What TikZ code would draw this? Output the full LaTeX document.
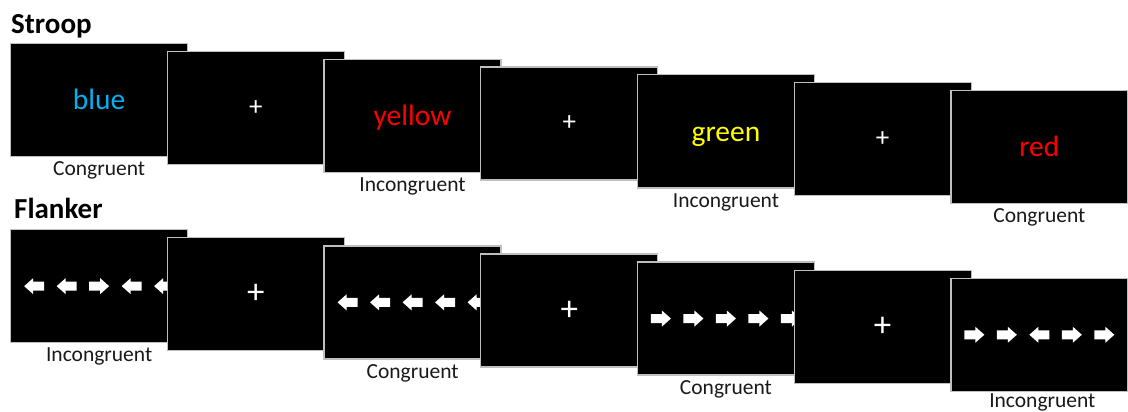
\documentclass[tikz,border=0pt]{standalone}
\usepackage{fontspec}
\setmainfont{Carlito}
\definecolor{wordblue}{HTML}{00B0F0}
\definecolor{wordred}{HTML}{FF0000}
\definecolor{wordyellow}{HTML}{FFFF00}
\definecolor{rim}{HTML}{BFBFBF}
\begin{document}
\begin{tikzpicture}[x=1pt,y=-1pt,
  screen/.style={rectangle, fill=black, draw=rim, line width=1.3pt,
    minimum width=177pt, minimum height=113pt, inner sep=0pt, anchor=north west},
  heading/.style={font=\fontsize{29}{30}\selectfont\bfseries, anchor=base west,
    inner sep=0pt, text=black},
  cond/.style={font=\fontsize{21.5}{23}\selectfont, anchor=base, inner sep=0pt,
    text=black!90},
  word/.style={font=\fontsize{29.5}{31}\selectfont, anchor=base, inner sep=0pt},
  fixcross/.style={font=\fontsize{27}{28}\selectfont, text=white, inner sep=0pt},
  bigcross/.style={fixcross, font=\fontsize{35}{36}\selectfont},
  rarr/.pic={\fill[white] (-10,-4.5) -- (1,-4.5) -- (1,-8) -- (10,0) -- (1,8)
    -- (1,4.5) -- (-10,4.5) -- cycle;}]
\useasboundingbox (0,0) rectangle (1128,412);

% ---- Stroop row ----
\node[heading] (stroop) at (11,33.5) {Stroop};

\node[screen] (s1) at (10,43) {};
\node[word, text=wordblue] (w1) at ([yshift=-67pt]s1.north) {blue};
\node[screen] (s2) at (166.7,50.8) {};
\node[fixcross] (p2) at (s2.center) {+};
\node[screen] (s3) at (323.4,58.6) {};
\node[word, text=wordred] (w3) at ([yshift=-67pt]s3.north) {yellow};
\node[screen] (s4) at (480.1,66.4) {};
\node[fixcross] (p4) at (s4.center) {+};
\node[screen] (s5) at (636.8,74.2) {};
\node[word, text=wordyellow] (w5) at ([yshift=-67pt]s5.north) {green};
\node[screen] (s6) at (793.5,82) {};
\node[fixcross] (p6) at (s6.center) {+};
\node[screen] (s7) at (950.2,89.8) {};
\node[word, text=wordred] (w7) at ([yshift=-67pt]s7.north) {red};

\node[cond] (c1) at ([yshift=-18.5pt]s1.south) {Congruent};
\node[cond] (c3) at ([yshift=-18.5pt]s3.south) {Incongruent};
\node[cond] (c5) at ([yshift=-18.5pt]s5.south) {Incongruent};
\node[cond] (c7) at ([yshift=-18.5pt]s7.south) {Congruent};

% ---- Flanker row ----
\node[heading] (flanker) at (14,218.3) {Flanker};

\node[screen] (f1) at (10,229) {};
\foreach \k/\dir in {-2/-1,-1/-1,0/1,1/-1,2/-1}
  \pic[xscale=\dir] at ([xshift=\k*32.5pt]f1.center) {rarr};
\node[screen] (f2) at (166.7,237.1) {};
\node[bigcross] (q2) at (f2.center) {+};
\node[screen] (f3) at (323.4,245.2) {};
\foreach \k in {-2,...,2}
  \pic[xscale=-1] at ([xshift=\k*32.5pt]f3.center) {rarr};
\node[screen] (f4) at (480.1,253.3) {};
\node[bigcross] (q4) at (f4.center) {+};
\node[screen] (f5) at (636.8,261.4) {};
\foreach \k in {-2,...,2}
  \pic at ([xshift=\k*32.5pt]f5.center) {rarr};
\node[screen] (f6) at (793.5,269.5) {};
\node[bigcross] (q6) at (f6.center) {+};
\node[screen] (f7) at (950.2,277.6) {};
\foreach \k/\dir in {-2/1,-1/1,0/-1,1/1,2/1}
  \pic[xscale=\dir] at ([xshift=\k*32.5pt]f7.center) {rarr};

\node[cond] (d1) at ([yshift=-18.5pt]f1.south) {Incongruent};
\node[cond] (d3) at ([yshift=-18.5pt]f3.south) {Congruent};
\node[cond] (d5) at ([yshift=-18.5pt]f5.south) {Congruent};
\node[cond] (d7) at ([xshift=3pt,yshift=-15.5pt]f7.south) {Incongruent};
\end{tikzpicture}
\end{document}
